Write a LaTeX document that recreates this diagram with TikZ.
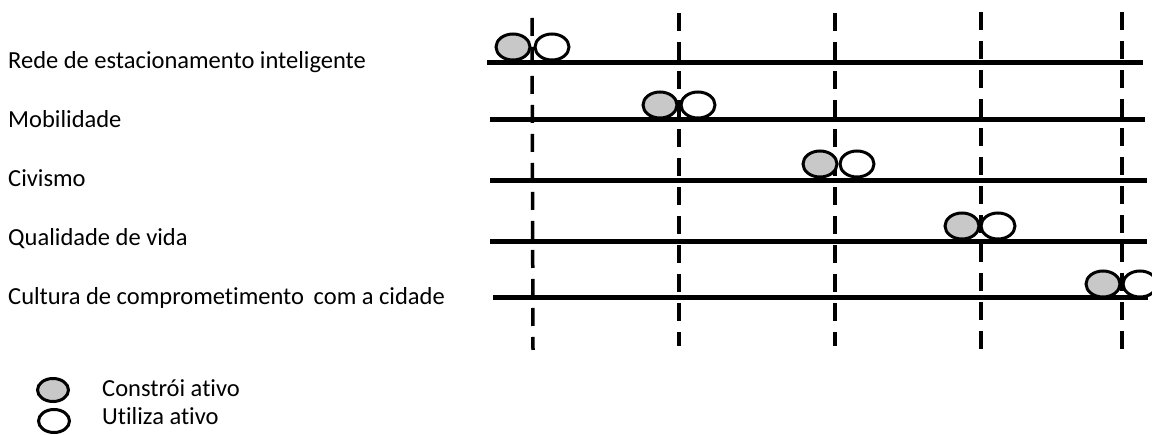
\documentclass[tikz,border=0pt]{standalone}
\usepackage{fontspec}
\setmainfont{Carlito}[Ligatures=NoCommon]
\usetikzlibrary{shapes.geometric}
\definecolor{fillgray}{RGB}{200,200,200}
\tikzset{
  lbl/.style={anchor=base west, inner sep=0pt, font=\fontsize{24.5}{27}\selectfont},
  track/.style={line width=5pt},
  sep/.style={line width=3.5pt, dash pattern=on 18pt off 11pt},
  build/.style={ellipse, draw, line width=3pt, fill=fillgray, minimum width=34pt, minimum height=26pt, inner sep=0pt},
  use/.style={ellipse, draw, line width=3pt, fill=white, minimum width=34pt, minimum height=26pt, inner sep=0pt},
  lbuild/.style={build, minimum width=31pt, minimum height=23pt},
  luse/.style={use, minimum width=31pt, minimum height=23pt}
}
\begin{document}
\begin{tikzpicture}[x=1pt,y=-1pt]
\useasboundingbox (0,0) rectangle (1152,435);
% labels
\node[lbl] (t1) at (8,69) {Rede de estacionamento inteligente};
\node[lbl] (t2) at (8,128) {Mobilidade};
\node[lbl] (t3) at (8,187) {Civismo};
\node[lbl] (t4) at (8,246) {Qualidade de vida};
\node[lbl] (t5) at (8,305) {Cultura de comprometimento\ \,com a cidade};
% tracks
\coordinate (a1) at (487,63);  \coordinate (b1) at (1143,63);
\coordinate (a2) at (490,120); \coordinate (b2) at (1145,120);
\coordinate (a3) at (490,181); \coordinate (b3) at (1147,181);
\coordinate (a4) at (490,242); \coordinate (b4) at (1147,242);
\coordinate (a5) at (493,298); \coordinate (b5) at (1148,298);
\foreach \i in {1,...,5} \draw[track] (a\i) -- (b\i);
% separators
\coordinate (s1) at (532,18);  \coordinate (e1) at (533,350);
\coordinate (s2) at (679,13);  \coordinate (e2) at (679,346);
\coordinate (s3) at (835,13);  \coordinate (e3) at (835,346);
\coordinate (s4) at (981,12);  \coordinate (e4) at (981,350);
\coordinate (s5) at (1122,12); \coordinate (e5) at (1122,350);
\foreach \i in {1,...,5} \draw[sep] (s\i) -- (e\i);
% assets
\node[build] (g1) at (513,47) {};  \node[use] (w1) at (552,47) {};
\node[build] (g2) at (660,105) {}; \node[use] (w2) at (698,105) {};
\node[build] (g3) at (820,164) {}; \node[use] (w3) at (857,164) {};
\node[build] (g4) at (962,226) {}; \node[use] (w4) at (998,226) {};
\node[build] (g5) at (1103,284) {}; \node[use] (w5) at (1140,284) {};
% legend
\node[lbuild] (lg) at (53,390) {};
\node[luse] (lw) at (54,421) {};
\node[lbl] (lt1) at (102,397) {Constrói ativo};
\node[lbl] (lt2) at (102,425) {Utiliza ativo};
\end{tikzpicture}
\end{document}
